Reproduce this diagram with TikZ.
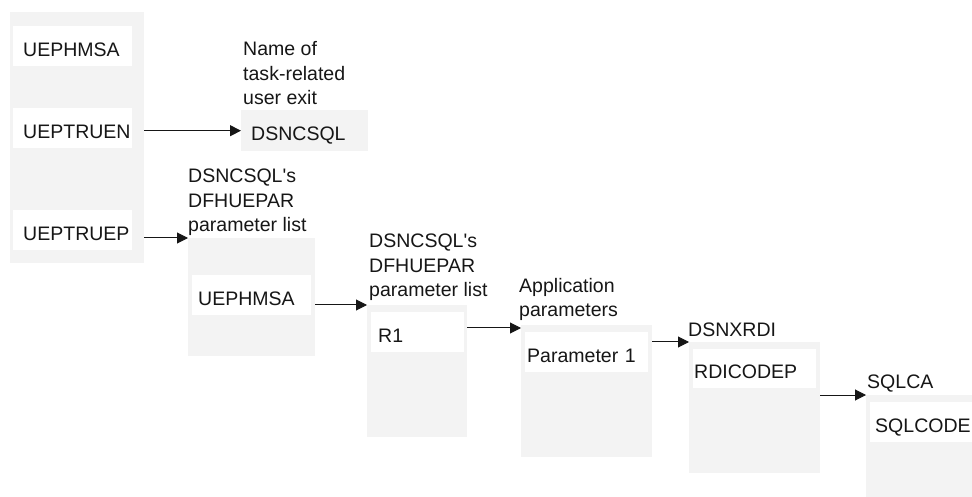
\documentclass[tikz,border=0pt]{standalone}
\usepackage{fontspec}
\setmainfont{Liberation Sans}
\usetikzlibrary{arrows.meta}
\definecolor{boxgray}{HTML}{F3F3F3}
\definecolor{ink}{HTML}{161616}
\tikzset{
  panel/.style={fill=boxgray, draw=none, inner sep=0pt, anchor=north west},
  cell/.style={fill=white, draw=none, anchor=north west, inner ysep=0pt,
    text height=20bp, text depth=0bp, align=left, text=ink},
  lbl/.style={anchor=base west, inner sep=0pt, align=left, text=ink},
  arr/.style={draw=ink, line width=1bp, -{Triangle[length=11bp,width=11bp]}},
}
\begin{document}
\begin{tikzpicture}[x=1bp, y=-1bp, font=\fontsize{19.6}{25}\selectfont]
\useasboundingbox (0,0) rectangle (972,497);
\clip (0,0) rectangle (972,497);
% left block
\node[panel, minimum width=134bp, minimum height=251bp] (big) at (10,12) {};
\node[cell, minimum height=40bp, text width=99bp, inner xsep=10bp] (hmsa) at (13,26) {UEPHMSA};
\node[cell, minimum height=40bp, text width=99bp, inner xsep=10bp] (uen) at (13,108) {UEPTRUEN};
\node[cell, minimum height=40bp, text width=99bp, inner xsep=10bp] (uep) at (13,210) {UEPTRUEP};
% name of exit (anchor = baseline of last line)
\node[lbl] (l0) at (243,105) {Name of\\task-related\\user exit};
\node[cell, fill=boxgray, minimum height=41bp, text width=107bp, inner xsep=10bp] (dsn) at (241,110) {DSNCSQL};
% box 1
\node[lbl] (l1) at (188,232) {DSNCSQL\textquotesingle s\\DFHUEPAR\\parameter list};
\node[panel, minimum width=127bp, minimum height=118bp] (b1) at (188,238) {};
\node[cell, minimum height=40bp, text width=107bp, inner xsep=6bp] (c1) at (192,275) {UEPHMSA};
% box 2
\node[lbl] (l2) at (369,297) {DSNCSQL\textquotesingle s\\DFHUEPAR\\parameter list};
\node[panel, minimum width=100bp, minimum height=132bp] (b2) at (367,305) {};
\node[cell, minimum height=40bp, text width=79bp, inner xsep=7bp] (c2) at (371,312) {R1};
% box 3
\node[lbl] (l3) at (519,317) {Application\\parameters};
\node[panel, minimum width=131bp, minimum height=132bp] (b3) at (521,325) {};
\node[cell, minimum height=40bp, text width=119bp, inner xsep=2bp] (c3) at (525,332) {Parameter 1};
% box 4
\node[lbl] (l4) at (688,337) {DSNXRDI};
\node[panel, minimum width=131bp, minimum height=131bp] (b4) at (689,342) {};
\node[cell, minimum height=39bp, text width=121bp, inner xsep=1bp] (c4) at (693,349) {RDICODEP};
% box 5
\node[lbl] (l5) at (867,388) {SQLCA};
\node[panel, minimum width=131bp, minimum height=131bp] (b5) at (866,395) {};
\node[cell, minimum height=40bp, text width=113bp, inner xsep=5bp] (c5) at (870,402) {SQLCODE};
% arrows
\draw[arr] (dsn.west -| big.east) -- (dsn.west);
\draw[arr] (b1.north west -| big.east) -- (b1.north west);
\draw[arr] (b2.north west -| b1.east) -- (b2.north west);
\draw[arr] ([yshift=-3bp]b3.north west -| b2.east) -- ([yshift=-3bp]b3.north west);
\draw[arr] (b4.north west -| b3.east) -- (b4.north west);
\draw[arr] (b5.north west -| b4.east) -- (b5.north west);
\end{tikzpicture}
\end{document}
